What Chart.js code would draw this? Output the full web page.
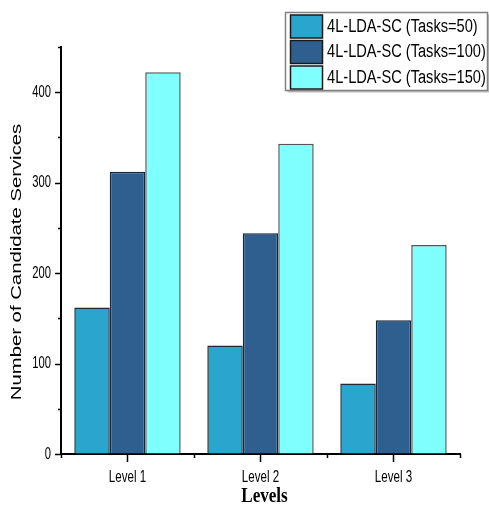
<!DOCTYPE html>
<html>
<head>
<meta charset="utf-8">
<script src="https://cdn.jsdelivr.net/npm/chart.js@4"></script>
<style>
  html, body { margin: 0; padding: 0; background: #fff; }
  #wrap { width: 489px; height: 506px; }
</style>
</head>
<body>
<div id="wrap"><canvas id="levels_chart"></canvas></div>
<script>
// values
const level_labels = ['Level 1', 'Level 2', 'Level 3'];
const series_names = ['4L-LDA-SC (Tasks=50)', '4L-LDA-SC (Tasks=100)', '4L-LDA-SC (Tasks=150)'];
const tasks_50 = [162, 120, 78];
const tasks_100 = [312, 244, 148];
const tasks_150 = [422, 343, 231];
const y_ticks = [0, 100, 200, 300, 400];

const fill_colors = ['#2aa5ce', '#2f5f8f', '#80ffff'];
const edge_colors = ['#1c2a33', '#15263a', '#555555'];

function squeezedText(ctx, text, px, py, sx, sy, align, font) {
	/*
	Draws text scaled by sx, sy (the original figure is stretched vertically).
	*/
	ctx.save();
	ctx.translate(px, py);
	ctx.scale(sx, sy);
	ctx.font = font;
	ctx.textAlign = align;
	ctx.textBaseline = 'middle';
	ctx.fillText(text, 0, 0);
	ctx.restore();
}

const extrasPlugin = {
	id: 'extras',
	afterDraw(chart) {
		/*
		Draws tick marks and labels, axis titles and the boxed legend.
		*/
		const ctx = chart.ctx;
		const area = chart.chartArea;
		const x = chart.scales.x;
		const y = chart.scales.y;
		const tickFont = "17px 'Liberation Sans', Arial, sans-serif";
		ctx.save();
		ctx.strokeStyle = '#000';
		ctx.fillStyle = '#000';
		ctx.lineWidth = 1.5;

		// y ticks: long at labelled values, short in between
		for (let v = 0; v <= y.max; v += 50) {
			const py = Math.round(y.getPixelForValue(v)) + 0.5;
			const len = (y_ticks.indexOf(v) >= 0) ? 6 : 3;
			ctx.beginPath();
			ctx.moveTo(area.left - len, py);
			ctx.lineTo(area.left, py);
			ctx.stroke();
		}
		y_ticks.forEach(v => {
			squeezedText(ctx, String(v), area.left - 10, y.getPixelForValue(v), 0.66, 1, 'right', tickFont);
		});

		// x ticks at category edges
		const n = level_labels.length;
		for (let i = 0; i <= n; i++) {
			let px;
			if (i == 0) px = area.left;
			else if (i == n) px = area.right;
			else px = (x.getPixelForValue(i - 1) + x.getPixelForValue(i)) / 2;
			px = Math.round(px) + 0.5;
			ctx.beginPath();
			ctx.moveTo(px, area.bottom);
			ctx.lineTo(px, area.bottom + 4);
			ctx.stroke();
		}
		level_labels.forEach((lab, i) => {
			squeezedText(ctx, lab, x.getPixelForValue(i), area.bottom + 23, 0.68, 1, 'center', tickFont);
		});

		// y title, stretched along its length like the original
		ctx.save();
		ctx.translate(17, 262);
		ctx.rotate(-Math.PI / 2);
		squeezedText(ctx, 'Number of Candidate Services', 0, 0, 1.45, 1, 'center', "14px 'Liberation Sans', Arial, sans-serif");
		ctx.restore();

		// x title
		squeezedText(ctx, 'Levels', (area.left + area.right) / 2 + 4, 497, 0.9, 1.05, 'center', "bold 19px 'Liberation Serif', 'Times New Roman', serif");

		// legend box
		const bx = 285.5, by = 12.5, bw = 202, bh = 78;
		ctx.fillStyle = 'rgba(0,0,0,0.25)';
		ctx.fillRect(bx + 2, by + 2, bw, bh);
		ctx.fillStyle = '#fff';
		ctx.fillRect(bx, by, bw, bh);
		ctx.strokeStyle = '#808080';
		ctx.lineWidth = 1.5;
		ctx.strokeRect(bx, by, bw, bh);

		chart.data.datasets.forEach((ds, i) => {
			const sy = 15 + i * 25.5;
			ctx.fillStyle = ds.backgroundColor;
			ctx.fillRect(290.5, sy, 32, 23);
			ctx.strokeStyle = '#1a1a1a';
			ctx.lineWidth = 1.5;
			ctx.strokeRect(290.5, sy, 32, 23);
			ctx.fillStyle = '#000';
			squeezedText(ctx, ds.label, 327, sy + 12, 0.86, 1.05, 'left', "17px 'Liberation Sans', Arial, sans-serif");
		});
		ctx.restore();
	}
};

const ctx = document.getElementById('levels_chart').getContext('2d');
const levels_chart = new Chart(ctx, {
	type: 'bar',
	data: {
		labels: level_labels,
		datasets: [
			{ label: series_names[0], data: tasks_50, backgroundColor: fill_colors[0], borderColor: edge_colors[0], borderWidth: 1.5 },
			{ label: series_names[1], data: tasks_100, backgroundColor: fill_colors[1], borderColor: edge_colors[1], borderWidth: 1.5 },
			{ label: series_names[2], data: tasks_150, backgroundColor: fill_colors[2], borderColor: edge_colors[2], borderWidth: 1.5 }
		]
	},
	options: {
		responsive: true,
		maintainAspectRatio: false,
		animation: false,
		datasets: {
			bar: { categoryPercentage: 0.8, barPercentage: 1.0 }
		},
		layout: {
			padding: { top: 47, right: 29, left: 0, bottom: 0 }
		},
		scales: {
			x: {
				afterFit: function(scale) { scale.height = 52; },
				grid: {
					offset: false,
					drawOnChartArea: false,
					tickLength: 8,
					tickColor: '#000',
					tickWidth: 1.5
				},
				border: { color: '#000', width: 2 },
				ticks: { display: false }
			},
			y: {
				min: 0,
				max: 450,
				afterFit: function(scale) { scale.width = 61; },
				grid: { display: true, drawOnChartArea: false, drawTicks: false },
				border: { color: '#000', width: 2 },
				ticks: { display: false, stepSize: 50 }
			}
		},
		plugins: {
			legend: { display: false },
			tooltip: { enabled: false }
		}
	},
	plugins: [extrasPlugin]
});
</script>
</body>
</html>
